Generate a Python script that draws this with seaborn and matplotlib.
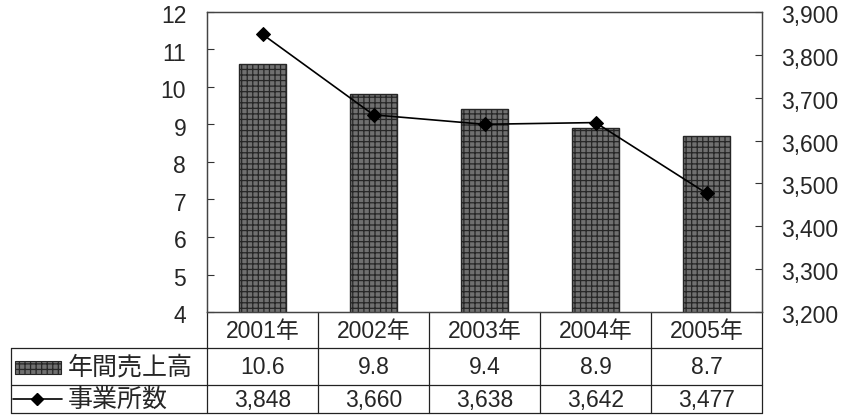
import matplotlib
matplotlib.use("Agg")
import matplotlib.pyplot as plt
import matplotlib.transforms as mtransforms
import seaborn as sns
import pandas as pd
from matplotlib.patches import Rectangle
from matplotlib.lines import Line2D

years = ["2001年", "2002年", "2003年", "2004年", "2005年"]
sales = [10.6, 9.8, 9.4, 8.9, 8.7]
offices = [3848, 3660, 3638, 3642, 3477]
sales_labels = ["10.6", "9.8", "9.4", "8.9", "8.7"]
office_labels = ["3,848", "3,660", "3,638", "3,642", "3,477"]
left_ticks = [4, 5, 6, 7, 8, 9, 10, 11, 12]
right_ticks = [3200, 3300, 3400, 3500, 3600, 3700, 3800, 3900]
sales_name = "年間売上高"
offices_name = "事業所数"

sns.set_theme(style="white")
plt.rcParams["font.family"] = ["Liberation Sans", "Noto Sans CJK JP"]
plt.rcParams["hatch.linewidth"] = 0.9
FS = 16.5
FS_JP = 18

df = pd.DataFrame({"year": years, "sales": sales, "offices": offices})

W, H = 842, 419
AX_L, AX_R, AX_T, AX_B = 207, 762, 12, 312
fig = plt.figure(figsize=(W / 100, H / 100), dpi=100)
ax = fig.add_axes([AX_L / W, 1 - AX_B / H, (AX_R - AX_L) / W, (AX_B - AX_T) / H])

bar_face = "#707070"
bar_edge = "#262626"
sns.barplot(data=df, x="year", y="sales", ax=ax, width=0.42,
            color=bar_face, saturation=1, edgecolor=bar_edge,
            linewidth=1.0, hatch="+++")
ax.set_ylim(4, 12)
ax.set_xlim(-0.5, 4.5)
ax.set_yticks(left_ticks)
ax.set_yticklabels([str(t) for t in left_ticks], fontsize=FS)
ax.tick_params(axis="y", direction="in", length=5, width=0.8,
               color="#333333", pad=15, left=True)
ax.tick_params(axis="x", bottom=False, labelbottom=False)
ax.set_xlabel("")
ax.set_ylabel("")

ax2 = ax.twinx()
sns.lineplot(data=df, x="year", y="offices", ax=ax2, color="black",
             linewidth=1.2, marker="D", markersize=7,
             markeredgecolor="black", sort=False)
ax2.set_ylim(3200, 3900)
ax2.set_xlim(-0.5, 4.5)
ax2.set_yticks(right_ticks)
ax2.set_yticklabels([f"{t:,}" for t in right_ticks], fontsize=FS)
ax2.tick_params(axis="y", direction="in", length=5, width=0.8,
                color="#333333", pad=14, right=True)
ax2.set_ylabel("")
ax2.set_xlabel("")

# nudge tick labels a couple of pixels down
shift = mtransforms.ScaledTranslation(0, -2 / 100, fig.dpi_scale_trans)
for lab in ax.get_yticklabels() + ax2.get_yticklabels():
    lab.set_transform(lab.get_transform() + shift)

for a in (ax, ax2):
    for s in a.spines.values():
        s.set_color("#444444")
        s.set_linewidth(0.9)

# data table under the plot
ph = float(AX_B - AX_T)
pw = float(AX_R - AX_L)


def yax(py):
    return (AX_B - py) / ph


def xax(px):
    return (px - AX_L) / pw


row_edges = [AX_B, 348, 385, 413]
xt = ax.get_xaxis_transform()
lc = "#222222"
lw = 0.9

for py in row_edges[1:]:
    ax.add_line(Line2D([xax(11), 1], [yax(py), yax(py)],
                       transform=ax.transAxes, color=lc, lw=lw, clip_on=False))
for xb in [-0.5, 0.5, 1.5, 2.5, 3.5, 4.5]:
    ax.add_line(Line2D([xb, xb], [yax(AX_B), yax(row_edges[-1])], transform=xt,
                       color=lc, lw=lw, clip_on=False))
ax.add_line(Line2D([xax(11)] * 2, [yax(row_edges[1]), yax(row_edges[-1])],
                   transform=ax.transAxes, color=lc, lw=lw, clip_on=False))

row_centers = [(row_edges[i] + row_edges[i + 1]) / 2 + 1 for i in range(3)]
for i, yr in enumerate(years):
    ax.text(i, yax(row_centers[0]), yr, transform=xt, ha="center",
            va="center", fontsize=FS, clip_on=False)
    ax.text(i, yax(row_centers[1]), sales_labels[i], transform=xt,
            ha="center", va="center", fontsize=FS, clip_on=False)
    ax.text(i, yax(row_centers[2]), office_labels[i], transform=xt,
            ha="center", va="center", fontsize=FS, clip_on=False)

# row labels with legend keys
ax.add_patch(Rectangle((xax(15), yax(374)), xax(61) - xax(15),
                       yax(361) - yax(374), transform=ax.transAxes,
                       facecolor=bar_face, edgecolor=bar_edge, hatch="+++",
                       lw=0.8, clip_on=False))
ax.text(xax(68), yax(row_centers[1]), sales_name, transform=ax.transAxes,
        ha="left", va="center", fontsize=FS_JP, clip_on=False)
ax.add_line(Line2D([xax(13), xax(62)], [yax(399)] * 2, transform=ax.transAxes,
                   color="black", lw=1.2, clip_on=False))
ax.add_line(Line2D([xax(37)], [yax(399)], transform=ax.transAxes,
                   marker="D", markersize=6, color="black", clip_on=False))
ax.text(xax(68), yax(row_centers[2]), offices_name, transform=ax.transAxes,
        ha="left", va="center", fontsize=FS_JP, clip_on=False)

fig.savefig("out.png", dpi=100)
